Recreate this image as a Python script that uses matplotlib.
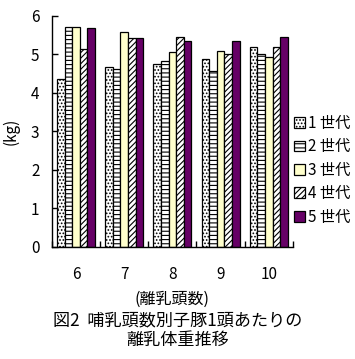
import matplotlib
matplotlib.use('Agg')
import matplotlib.pyplot as plt
import numpy as np

plt.rcParams['font.family'] = ['Noto Sans CJK JP', 'DejaVu Sans']
plt.rcParams['font.size'] = 11
plt.rcParams['hatch.linewidth'] = 0.8

# data
litters = ['6', '7', '8', '9', '10']
series_names = ['1 世代', '2 世代', '3 世代', '4 世代', '5 世代']
gen1 = [4.36, 4.67, 4.75, 4.87, 5.19]
gen2 = [5.70, 4.61, 4.82, 4.57, 5.00]
gen3 = [5.70, 5.58, 5.06, 5.08, 4.93]
gen4 = [5.13, 5.42, 5.45, 5.00, 5.19]
gen5 = [5.68, 5.42, 5.34, 5.34, 5.45]
values = [gen1, gen2, gen3, gen4, gen5]

colors = ['white', 'white', '#FFFFCC', 'white', '#660066']
hatches = ['.....', '----', None, '//////', None]

fig = plt.figure(figsize=(3.55, 3.59), dpi=100)
ax = fig.add_axes([0.146, 0.312, 0.679, 0.644])

x = np.arange(len(litters))
w = 0.158
for i, vals in enumerate(values):
    ax.bar(x - 2 * w + i * w, vals, w, color=colors[i], edgecolor='black',
           linewidth=0.9, hatch=hatches[i], label=series_names[i])

ax.set_xlim(-0.5, 4.5)
ax.set_ylim(0, 6)
ax.set_yticks(range(0, 7))
# group separators as major ticks, labels on minor ticks
ax.set_xticks(np.arange(-0.5, 5, 1))
ax.set_xticklabels([''] * 6)
ax.set_xticks(x, minor=True)
ax.set_xticklabels(litters, minor=True)
ax.tick_params(axis='x', which='minor', length=0, pad=14)
ax.tick_params(axis='x', which='major', direction='in', length=4, width=1)
ax.tick_params(axis='y', direction='in', length=4, width=1, pad=9)
for s in ['top', 'right']:
    ax.spines[s].set_visible(False)
ax.spines['left'].set_linewidth(1)
ax.spines['bottom'].set_linewidth(1)

ax.set_ylabel('(kg)', labelpad=8)
ax.set_xlabel('(離乳頭数)', labelpad=5, fontsize=11.5)

ax.legend(loc='upper left', bbox_to_anchor=(0.828, 0.68), bbox_transform=fig.transFigure,
          frameon=False, handlelength=0.7, handleheight=0.7, handletextpad=0.2,
          labelspacing=0.42, borderpad=0, borderaxespad=0)

fig.text(0.5, 0.108, '図2  哺乳頭数別子豚1頭あたりの', ha='center', va='center', fontsize=12.3)
fig.text(0.5, 0.052, '離乳体重推移', ha='center', va='center', fontsize=12.3)

plt.savefig('out.png', dpi=100)
